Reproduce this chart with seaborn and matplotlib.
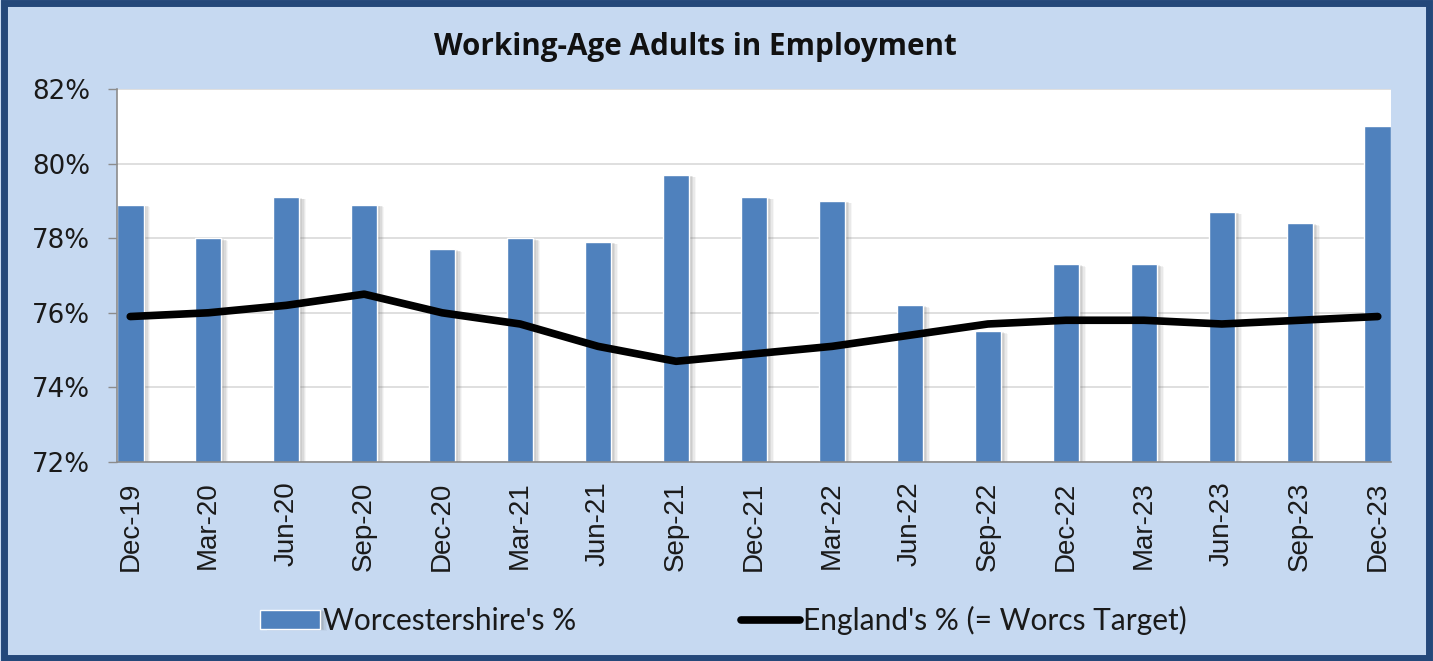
import pandas as pd
import seaborn as sns
import matplotlib.pyplot as plt
import matplotlib.patheffects as pe
from matplotlib.patches import Rectangle
from matplotlib.ticker import FuncFormatter
import numpy as np

# Quarterly data
quarters = ['Dec-19', 'Mar-20', 'Jun-20', 'Sep-20', 'Dec-20', 'Mar-21', 'Jun-21',
            'Sep-21', 'Dec-21', 'Mar-22', 'Jun-22', 'Sep-22', 'Dec-22', 'Mar-23',
            'Jun-23', 'Sep-23', 'Dec-23']
worcs = [78.9, 78.0, 79.1, 78.9, 77.7, 78.0, 77.9, 79.7, 79.1, 79.0, 76.2, 75.5,
         77.3, 77.3, 78.7, 78.4, 81.0]
england = [75.9, 76.0, 76.2, 76.5, 76.0, 75.7, 75.1, 74.7, 74.9, 75.1, 75.4, 75.7,
           75.8, 75.8, 75.7, 75.8, 75.9]
yticks = [72, 74, 76, 78, 80, 82]

df = pd.DataFrame({'quarter': quarters, 'worcs': worcs, 'england': england})
df['pos'] = np.arange(len(df))

bg = '#C6D9F1'
bar_col = '#4F81BD'
w = 0.34

sns.set_style('white')

fig = plt.figure(figsize=(14.33, 6.61), dpi=100)
fig.patch.set_facecolor(bg)
# dark blue frame round the whole chart
fig.patches.append(Rectangle((0.003, 0.005), 0.994, 0.99, transform=fig.transFigure,
                             fill=False, edgecolor='#24487A', linewidth=5))

ax = fig.add_axes([117 / 1433, 1 - 462 / 661, (1391 - 117) / 1433, (462 - 89) / 661])
ax.set_facecolor('white')

# Draw the bars
sns.barplot(data=df, x='quarter', y='worcs', color=bar_col, saturation=1,
            width=w, label="Worcestershire's %", ax=ax, zorder=2)
# soft Excel-like shadow, a few faint layers
shadow = [pe.SimplePatchShadow(offset=(o, -o / 3), shadow_rgbFace='#6f6f6f', alpha=a)
          for o, a in [(5, 0.06), (4, 0.09), (3, 0.12), (2, 0.12)]]
for bar in ax.patches:
    bar.set_path_effects(shadow + [pe.Normal()])

# Draw the line
sns.lineplot(data=df, x='pos', y='england', color='black', linewidth=5.5,
             label="England's % (= Worcs Target)", ax=ax, zorder=3)

ax.set_xlim(-w / 2, len(quarters) - 1 + w / 2)
ax.set_ylim(72, 82)
ax.set_yticks(yticks)
ax.yaxis.set_major_formatter(FuncFormatter(lambda v, p: f'{v:.0f}%'))
ax.set_xticks(df['pos'])
ax.set_xticklabels(quarters, rotation=90, fontsize=20, family='Liberation Sans',
                   color='#1a1a1a')
for lab in ax.get_yticklabels():
    lab.set_fontsize(18.8)
    lab.set_family('DejaVu Sans')
    lab.set_color('#1a1a1a')
ax.tick_params(axis='x', length=0, pad=14)
ax.tick_params(axis='y', length=6.5, width=1, color='#8c8c8c', pad=13, left=True)
ax.set_xlabel('')
ax.set_ylabel('')
ax.yaxis.grid(True, color='#D9D9D9', linewidth=1.2, zorder=0)
ax.set_axisbelow(True)
for s in ['top', 'right']:
    ax.spines[s].set_visible(False)
for s in ['left', 'bottom']:
    ax.spines[s].set_color('#8c8c8c')
    ax.spines[s].set_linewidth(1.2)

fig.text(695 / 1433, 1 - 47 / 661, 'Working-Age Adults in Employment', ha='center',
         va='center', fontsize=21.3, fontweight='bold', family='Open Sans', color='#111111')

if ax.legend_:
    ax.legend_.remove()
handles, labels = ax.get_legend_handles_labels()
order = [labels.index("Worcestershire's %"), labels.index("England's % (= Worcs Target)")]
leg = fig.legend([handles[i] for i in order], [labels[i] for i in order], loc='center',
                 bbox_to_anchor=(0.505, 1 - 620 / 661), ncol=2, frameon=False,
                 handlelength=2.0, handleheight=0.6, handletextpad=0.1, columnspacing=5.5,
                 prop={'family': 'Lato', 'size': 21.5})
for t in leg.get_texts():
    t.set_color('#1a1a1a')

fig.savefig('out.png', dpi=100, facecolor=bg)
